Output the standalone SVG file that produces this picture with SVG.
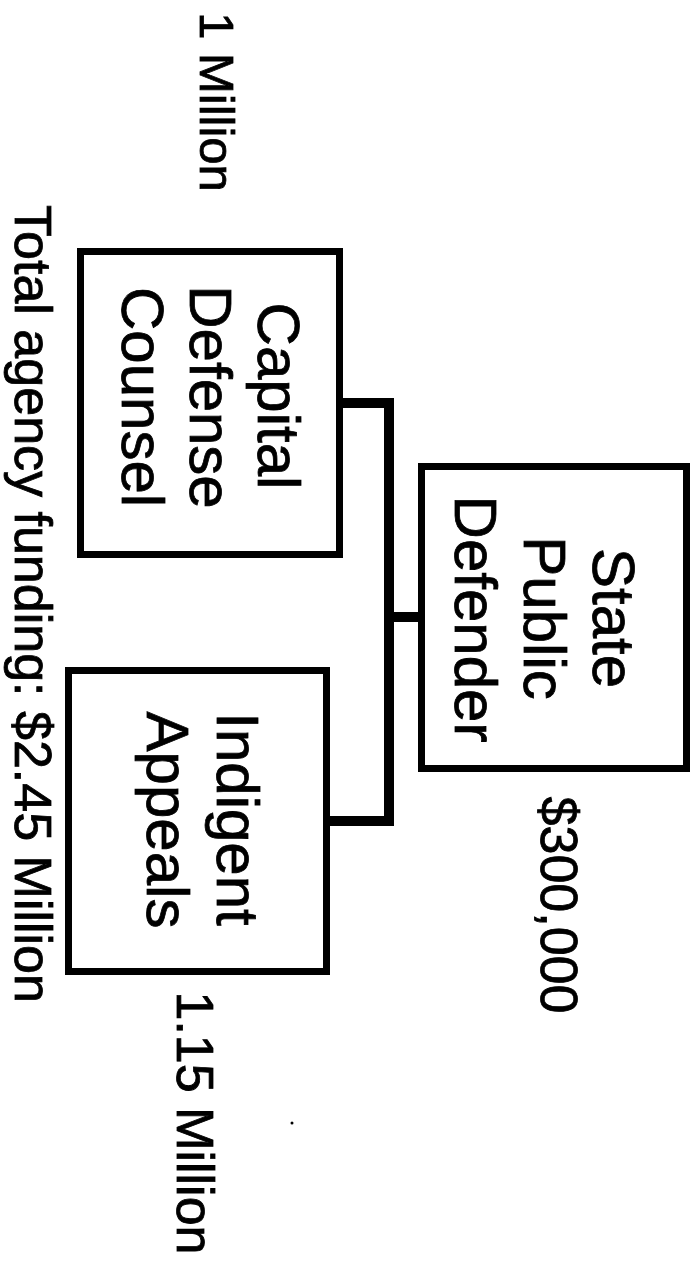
<svg xmlns="http://www.w3.org/2000/svg" width="700" height="1261" viewBox="0 0 700 1261">
<style>
.box{fill:none;stroke:#000;stroke-width:7}
.conn{fill:none;stroke:#000;stroke-width:10;stroke-linejoin:miter;stroke-linecap:butt}
.lbl{font-family:"Liberation Sans",Arial,sans-serif;font-size:60px;fill:#000;stroke:#000;stroke-width:0.8;text-anchor:middle}
.amt{font-family:"Liberation Sans",Arial,sans-serif;font-size:52px;fill:#000;stroke:#000;stroke-width:0.8;text-anchor:middle}
</style>
<rect width="700" height="1261" fill="#fff"/>
<g id="connectors">
<path class="conn" d="M343,403 H389 V821 H330"/>
<path class="conn" d="M389,617 H418"/>
</g>
<g id="node-state-public-defender">
<rect class="box" x="421.5" y="466.5" width="265" height="302"/>
<text class="lbl" transform="translate(593,618) rotate(90)">State</text>
<text class="lbl" transform="translate(524,618) rotate(90)">Public</text>
<text class="lbl" transform="translate(455,619) rotate(90)">Defender</text>
</g>
<g id="node-capital-defense-counsel">
<rect class="box" x="80.5" y="251.5" width="259" height="303"/>
<text class="lbl" transform="translate(258,396) rotate(90)">Capital</text>
<text class="lbl" transform="translate(190,397) rotate(90)">Defense</text>
<text class="lbl" transform="translate(122,397) rotate(90)">Counsel</text>
</g>
<g id="node-indigent-appeals">
<rect class="box" x="68.5" y="670.5" width="258" height="301"/>
<text class="lbl" transform="translate(217,819) rotate(90)">Indigent</text>
<text class="lbl" transform="translate(147,820) rotate(90)">Appeals</text>
</g>
<g id="amounts">
<text class="amt" style="font-size:49px" transform="translate(200,102) rotate(90)">1 Million</text>
<text class="amt" transform="translate(541,905) rotate(90)">$300,000</text>
<text class="amt" transform="translate(177,1123) rotate(90)">1.15 Million</text>
<text class="amt" transform="translate(15,604) rotate(90)">Total agency funding: $2.45 Million</text>
</g>
<circle cx="292" cy="1123" r="1.5" fill="#000"/>
</svg>
